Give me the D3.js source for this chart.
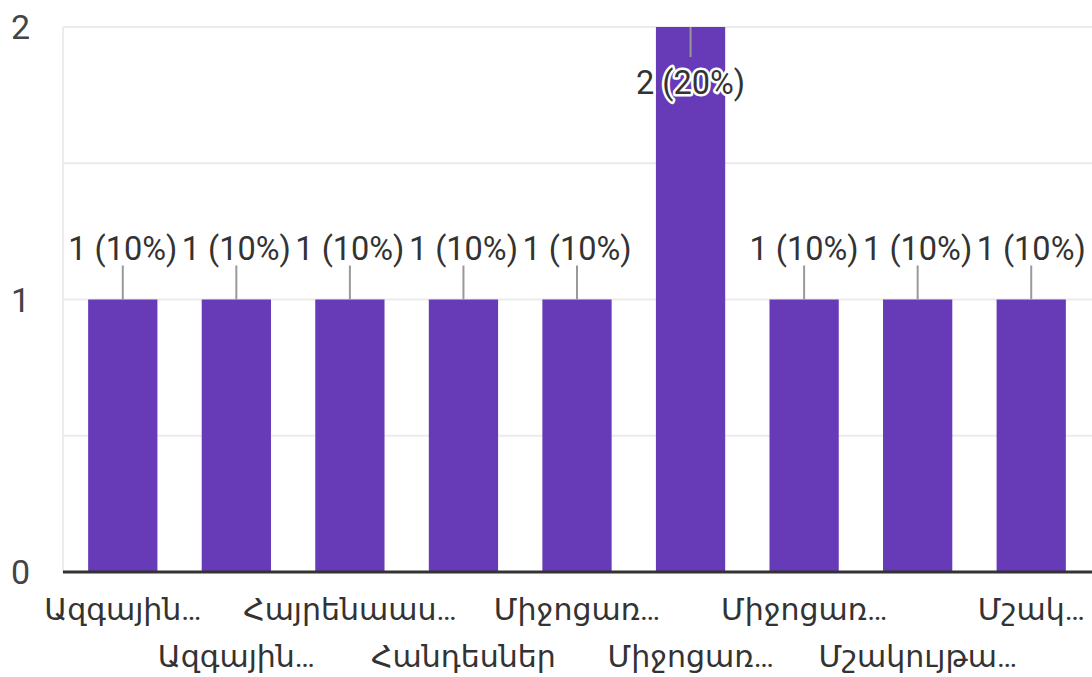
<!DOCTYPE html>
<html>
<head>
<meta charset="utf-8">
<script src="https://cdn.jsdelivr.net/npm/d3@7"></script>
<style>
  html, body { margin: 0; padding: 0; background: #fff; }
  svg { display: block; font-family: Roboto, "Noto Sans", "DejaVu Sans", sans-serif; }
</style>
</head>
<body>
<svg id="chart" width="1092" height="677"></svg>
<script>
const categories = [
  "Ազգային…", "Ազգային…", "Հայրենաաս…", "Հանդեսներ", "Միջոցառ…",
  "Միջոցառ…", "Միջոցառ…", "Մշակույթա…", "Մշակ…"
];
const counts = [1, 1, 1, 1, 1, 2, 1, 1, 1];
const total = 10;
const yTicks = [0, 1, 2];
const gridValues = [0.5, 1, 1.5, 2];

const svg = d3.select("#chart");
const left = 63, right = 1092;

const x = d3.scaleBand()
  .domain(d3.range(categories.length))
  .range([66, 1088])
  .paddingInner(0.39)
  .paddingOuter(0.195);

const y = d3.scaleLinear().domain([0, 2]).range([572, 27]);

// gridlines
svg.append("g").selectAll("line").data(gridValues).join("line")
  .attr("x1", left).attr("x2", right)
  .attr("y1", d => y(d)).attr("y2", d => y(d))
  .attr("stroke", "#ebebeb").attr("stroke-width", 2);

// left frame line
svg.append("line")
  .attr("x1", left).attr("x2", left)
  .attr("y1", y(2)).attr("y2", y(0))
  .attr("stroke", "#ebebeb").attr("stroke-width", 2);

// y tick labels
svg.append("g").selectAll("text").data(yTicks).join("text")
  .attr("x", 30).attr("y", d => y(d))
  .attr("dy", "0.36em")
  .attr("text-anchor", "end")
  .attr("font-size", 34)
  .attr("fill", "#444")
  .text(d => d);

// bars
svg.append("g").selectAll("rect").data(counts).join("rect")
  .attr("x", (d, i) => x(i))
  .attr("width", x.bandwidth())
  .attr("y", d => y(d))
  .attr("height", d => y(0) - y(d))
  .attr("fill", "#673ab7");

// baseline
svg.append("line")
  .attr("x1", left).attr("x2", right)
  .attr("y1", y(0)).attr("y2", y(0))
  .attr("stroke", "#333").attr("stroke-width", 3);

// data labels with leader lines
const labels = svg.append("g");
counts.forEach((v, i) => {
  const cx = x(i) + x.bandwidth() / 2;
  const top = y(v);
  const inside = top - 75 < 0;
  const lineY2 = inside ? top + 30 : top - 34;
  const textY = inside ? top + 67 : top - 40;
  labels.append("line")
    .attr("x1", cx).attr("x2", cx)
    .attr("y1", top).attr("y2", lineY2)
    .attr("stroke", "#999").attr("stroke-width", 2);
  labels.append("text")
    .attr("x", cx).attr("y", textY)
    .attr("text-anchor", "middle")
    .attr("font-size", 32.5)
    .attr("fill", "#333")
    .attr("stroke", inside ? "#fff" : "none")
    .attr("stroke-width", inside ? 5 : 0)
    .attr("paint-order", "stroke")
    .attr("stroke-linejoin", "round")
    .text(`${v} (${Math.round(v / total * 100)}%)`);
});

// x labels, alternating rows
svg.append("g").selectAll("text").data(categories).join("text")
  .attr("x", (d, i) => x(i) + x.bandwidth() / 2)
  .attr("y", (d, i) => i % 2 === 0 ? 620 : 667)
  .attr("text-anchor", "middle")
  .attr("font-size", 30)
  .attr("fill", "#333")
  .text(d => d);
</script>
</body>
</html>
